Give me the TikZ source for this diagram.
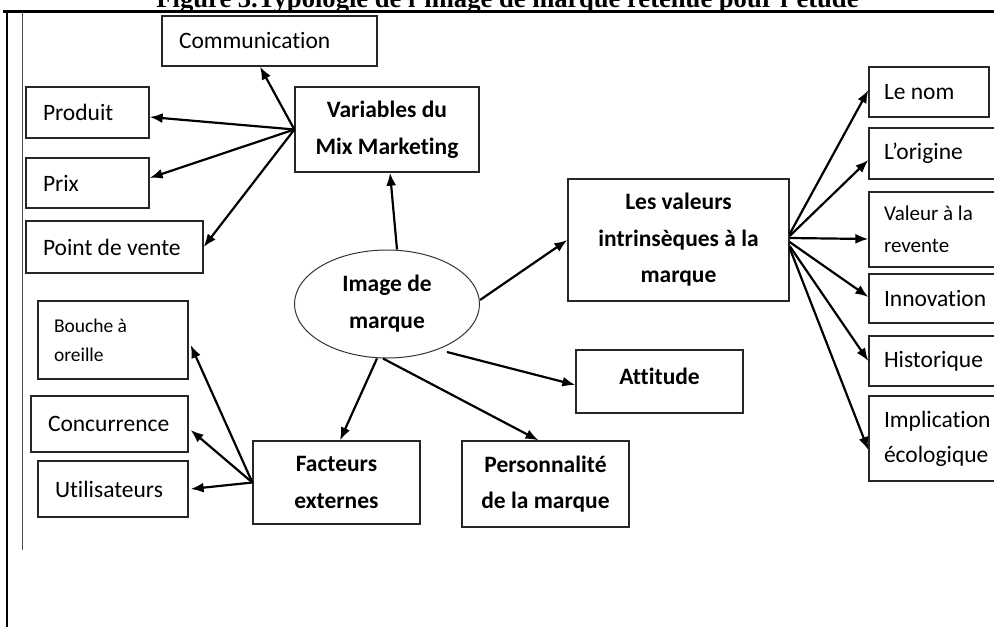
\documentclass[tikz,border=0pt]{standalone}
\usepackage{fontspec}
\setmainfont{Carlito}[Ligatures={NoCommon}]
\newfontfamily\titlefont{Liberation Serif}
\usetikzlibrary{arrows.meta,calc,shapes.geometric}
% one label line at the font's natural word spacing
\newcommand\lbl[1]{\mbox{\spaceskip=0pt\xspaceskip=0pt\relax #1}}

\begin{document}
\begin{tikzpicture}[x=1pt,y=-1pt,
  lab/.style={draw=black!85, line width=1.3pt, rectangle, inner sep=0pt,
    align=left, font=\fontsize{23.5}{35}\selectfont},
  boldlab/.style={draw=black!85, line width=1.3pt, rectangle, inner sep=0pt,
    align=center, font=\bfseries\fontsize{23.5}{36.5}\selectfont},
  oval/.style={draw=black!80, line width=1pt, ellipse, inner sep=0pt,
    align=center, font=\bfseries\fontsize{23.5}{37}\selectfont},
  link/.style={line width=2.2pt, -{Latex[length=13pt,width=10pt]}},
  frame/.style={line width=2.5pt}
]
\useasboundingbox (0,0) rectangle (994,627);

% title (partly above the page)
\node[font=\titlefont\bfseries\fontsize{26.6}{30}\selectfont, anchor=base, inner sep=0pt]
  (title) at (507.5,7) {Figure 3.Typologie de l’image de marque retenue pour l’étude};

% frame lines
\draw[frame] (3,11.5) -- (994,11.5);
\draw[frame] (7,11.5) -- (7,627);
\draw[line width=1.5pt, black!70] (22.5,11.5) -- (22.5,550);

% marketing mix
\node[lab, minimum width=215pt, minimum height=50pt, text width=181pt] (comm) at (269.5,41) {\lbl{Communication}};
\node[lab, minimum width=123pt, minimum height=51pt, text width=89pt] (prod) at (87.5,112.5) {\lbl{Produit}};
\node[lab, minimum width=123pt, minimum height=50pt, text width=89pt] (prix) at (87.5,183) {\lbl{Prix}};
\node[lab, minimum width=177pt, minimum height=52pt, text width=143pt] (pdv) at (114.5,247) {\lbl{Point de vente}};
\node[boldlab, minimum width=184pt, minimum height=85pt] (var) at (387,129.5) {Variables du\\Mix Marketing};

% centre
\node[oval, minimum width=185pt, minimum height=108pt] (img) at (387,304) {Image de\\marque};

% external factors
\node[lab, minimum width=150pt, minimum height=78pt, text width=118pt,
  font=\fontsize{19.5}{29}\selectfont] (bouche) at (113,340) {\lbl{Bouche à}\\\lbl{oreille}};
\node[lab, minimum width=157pt, minimum height=56pt, text width=123pt] (conc) at (109.5,424) {\lbl{Concurrence}};
\node[lab, minimum width=150pt, minimum height=56pt, text width=116pt] (util) at (113,489) {\lbl{Utilisateurs}};
\node[boldlab, minimum width=167pt, minimum height=83pt] (fact) at (336.5,482.5) {Facteurs\\externes};

% personality and attitude
\node[boldlab, minimum width=167pt, minimum height=86pt] (pers) at (545.5,484) {Personnalité\\de la marque};
\node[boldlab, minimum width=167pt, minimum height=63pt] (att) at (659.5,381.5) {\raisebox{5pt}[\height][\depth]{Attitude}};

% intrinsic values
\node[boldlab, minimum width=221pt, minimum height=122pt] (valeurs) at (678.5,240) {Les valeurs\\intrinsèques à la\\marque};
\node[lab, minimum width=120pt, minimum height=50pt, text width=90pt] (nom) at (929,92) {\lbl{Le nom}};
\node[lab, minimum width=128pt, minimum height=51pt, text width=98pt] (orig) at (933,153.5) {\lbl{L’origine}};
\node[lab, minimum width=128pt, minimum height=75pt, text width=98pt,
  font=\fontsize{21}{32}\selectfont] (val) at (933,229.5) {\lbl{Valeur à la}\\\lbl{revente}};
\node[lab, minimum width=128pt, minimum height=49pt, text width=98pt] (innov) at (933,298.5) {\lbl{Innovation}};
\node[lab, minimum width=128pt, minimum height=50pt, text width=98pt] (hist) at (933,361) {\lbl{Historique}};
\node[lab, minimum width=128pt, minimum height=85pt, text width=98pt] (impl) at (933,438.5) {\lbl{Implication}\\\lbl{écologique}};

% connectors of the marketing mix
\draw[link] (var.west) -- ($(comm.south)+(-9.5,0)$);
\draw[link] (var.west) -- ($(prod.east)+(0,4.5)$);
\draw[link] (var.west) -- ($(prix.east)+(0,-5)$);
\draw[link] (var.west) -- (pdv.east);

% connectors from the centre
\draw[link] ($(img.north)+(10,0)$) -- ($(var.south)+(3,0)$);
\draw[link] ($(img.east)+(0,-4)$) -- (valeurs.west);
\draw[link] ($(img.center)+(60,48)$) -- ($(att.west)+(0,3.5)$);
\draw[link] ($(img.south)+(-4,0)$) -- ($(pers.north)+(-7,0)$);
\draw[link] ($(img.south)+(-10,0)$) -- ($(fact.north)+(3.5,0)$);

% connectors of the external factors
\draw[link] (fact.west) -- ($(bouche.east)+(2,5)$);
\draw[link] (fact.west) -- ($(conc.east)+(2,6)$);
\draw[link] (fact.west) -- ($(util.east)+(2,0)$);

% connectors of the intrinsic values
\draw[link] ($(valeurs.east)+(0,-6)$) -- ($(nom.west)+(0,-2)$);
\draw[link] ($(valeurs.east)+(0,-4)$) -- ($(orig.west)+(0,6.5)$);
\draw[link] ($(valeurs.east)+(0,-2)$) -- ($(val.west)+(0,9.5)$);
\draw[link] ($(valeurs.east)+(0,2)$) -- ($(innov.west)+(0,-1.5)$);
\draw[link] ($(valeurs.east)+(0,6)$) -- (hist.west);
\draw[link] ($(valeurs.east)+(0,8)$) -- ($(impl.west)+(0,11.5)$);
\end{tikzpicture}
\end{document}
